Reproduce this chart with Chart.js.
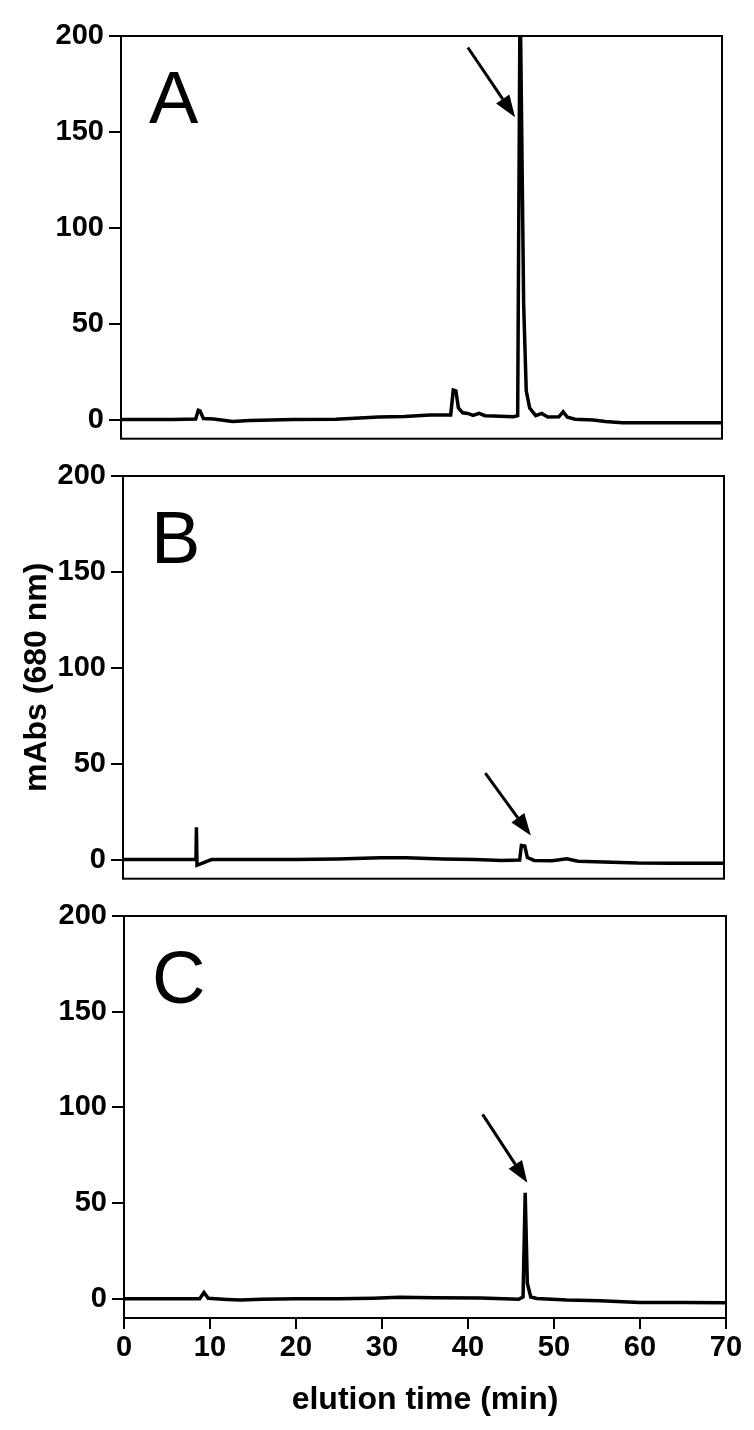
<!DOCTYPE html>
<html>
<head>
<meta charset="utf-8">
<script src="https://cdn.jsdelivr.net/npm/chart.js@4.4.1/dist/chart.umd.min.js"></script>
<style>
  html, body { margin: 0; padding: 0; background: #fff; }
  #wrap { position: relative; width: 754px; height: 1430px; }
  canvas { position: absolute; left: 0; }
</style>
</head>
<body>
<div id="wrap">
  <canvas id="chartA" width="754" height="440" style="top:0px"></canvas>
  <canvas id="chartB" width="754" height="440" style="top:440px"></canvas>
  <canvas id="chartC" width="754" height="550" style="top:880px"></canvas>
</div>
<script>
// elution time (min) / absorbance (mAbs, 680 nm)
const timeA = [0, 6, 8.7, 9.0, 9.2, 9.6, 10.8, 13.0, 15, 20, 25, 27.8, 30, 33, 36, 38.4, 38.7, 39.0, 39.3, 39.8,
  40.4, 41, 41.7, 42.4, 43.4, 45.7, 46.2, 46.45, 46.55, 46.9, 47.2, 47.6, 48.3, 49.0, 49.7, 51.0, 51.5, 52.0, 52.9, 55,
  56.4, 58.4, 62, 66, 70];
const absA = [0, 0, 0.3, 4.8, 4.5, 0.5, 0.3, -1, -0.5, 0, 0.2, 0.8, 1.3, 1.6, 2.3, 2.4, 15.4, 15, 6, 3.5,
  3.2, 2.2, 3.2, 2, 1.8, 1.5, 2, 199, 199, 60, 15, 6, 2, 3.2, 1.3, 1.4, 4, 1.2, 0.2, -0.3,
  -1, -1.7, -1.7, -1.7, -1.7];

const timeB = [0, 5, 8.5, 8.55, 8.62, 10.3, 12, 20, 25, 30, 33, 37.2, 41, 44.1, 46.2, 46.4, 46.8, 47.1, 47.9, 50,
  51.7, 53, 56, 60, 64, 70];
const absB = [0, 0, 0, 16.8, -3, 0, 0, 0, 0.3, 0.9, 0.9, 0.3, 0, -0.5, -0.3, 7.3, 7, 1, -0.5, -0.6,
  0.4, -0.9, -1.3, -1.8, -1.9, -1.9];

const timeC = [0, 8.8, 9.3, 9.8, 12, 13.5, 16, 20, 25, 29, 32, 36, 41.5, 45.9, 46.4, 46.65, 46.9, 47.3, 48, 51.5,
  55.4, 58, 60, 65, 70];
const absC = [0, 0, 3.3, 0.3, -0.3, -0.6, -0.2, 0, 0, 0.3, 0.8, 0.6, 0.4, -0.2, 1, 55.4, 8, 1, 0.2, -0.6,
  -1, -1.5, -1.9, -1.9, -2];

const xTicks = [0, 10, 20, 30, 40, 50, 60, 70];
const yTicks = [0, 50, 100, 150, 200];

// arrows pointing at the peak: [fromTime, fromAbs, toTime, toAbs]
const arrowA = [40.4, 194, 45.9, 157.6];
const arrowB = [42.2, 45, 47.5, 12.5];
const arrowC = [41.7, 96.4, 46.9, 60.6];

Chart.defaults.font.family = "'Liberation Sans', Arial, sans-serif";
Chart.defaults.color = "#000";

// box around the plot, panel letter and the arrow
const panelDecor = {
  id: "panelDecor",
  afterDraw(chart, args, opts) {
    const { ctx, chartArea: a } = chart;
    const sx = chart.scales.x, sy = chart.scales.y;
    ctx.save();
    ctx.strokeStyle = "#000";
    ctx.fillStyle = "#000";
    ctx.lineWidth = 2;
    ctx.strokeRect(a.left, a.top, a.right - a.left, a.bottom - a.top);

    ctx.font = "74px 'Liberation Sans', Arial, sans-serif";
    ctx.textBaseline = "alphabetic";
    ctx.textAlign = "left";
    ctx.fillText(opts.letter, a.left + 28, a.top + 87);

    const x0 = sx.getPixelForValue(opts.arrow[0]), y0 = sy.getPixelForValue(opts.arrow[1]);
    const x1 = sx.getPixelForValue(opts.arrow[2]), y1 = sy.getPixelForValue(opts.arrow[3]);
    const ang = Math.atan2(y1 - y0, x1 - x0);
    const head = 22, half = 8;
    const bx = x1 - head * Math.cos(ang), by = y1 - head * Math.sin(ang);
    ctx.lineWidth = 3;
    ctx.beginPath();
    ctx.moveTo(x0, y0);
    ctx.lineTo(bx, by);
    ctx.stroke();
    ctx.beginPath();
    ctx.moveTo(x1, y1);
    ctx.lineTo(bx + half * Math.sin(ang), by - half * Math.cos(ang));
    ctx.lineTo(bx - half * Math.sin(ang), by + half * Math.cos(ang));
    ctx.closePath();
    ctx.fill();
    ctx.restore();
  }
};

function makePanel(id, times, abs, letter, arrow, left, right, showX, yTitle) {
  const ctx = document.getElementById(id).getContext("2d");
  return new Chart(ctx, {
    type: "line",
    data: {
      datasets: [{
        data: times.map((t, i) => ({ x: t, y: abs[i] })),
        borderColor: "#000",
        borderWidth: 3.5,
        pointRadius: 0,
        tension: 0,
        fill: false
      }]
    },
    options: {
      responsive: false,
      animation: false,
      devicePixelRatio: 1,
      layout: { padding: { left: 0, right: 754 - right, top: 36, bottom: showX ? 0 : 1.3 } },
      plugins: {
        legend: { display: false },
        tooltip: { enabled: false },
        panelDecor: { letter: letter, arrow: arrow }
      },
      scales: {
        x: {
          type: "linear",
          min: 0,
          max: 70,
          display: showX,
          afterBuildTicks: s => { s.ticks = xTicks.map(v => ({ value: v })); },
          afterFit: s => { s.height = showX ? 112 : 0; },
          border: { display: false },
          grid: { drawOnChartArea: false, drawTicks: true, tickLength: 11, color: "#000", lineWidth: 2 },
          ticks: { padding: 2, maxRotation: 0, font: { size: 29, weight: "bold" }, color: "#000" },
          title: {
            display: true,
            text: "elution time (min)",
            font: { size: 32, weight: "bold" },
            color: "#000",
            padding: { top: 0, bottom: 11 }
          }
        },
        y: {
          min: -10,
          max: 200,
          afterBuildTicks: s => { s.ticks = yTicks.map(v => ({ value: v })); },
          afterFit: s => { s.width = left; s.paddingTop = 0; s.paddingBottom = 0; },
          border: { display: false },
          grid: { drawOnChartArea: false, drawTicks: true, tickLength: 12, color: "#000", lineWidth: 2 },
          ticks: { padding: 5, font: { size: 29, weight: "bold" }, color: "#000" },
          title: {
            display: yTitle,
            text: "mAbs (680 nm)",
            font: { size: 32, weight: "bold" },
            color: "#000",
            padding: { top: 18, bottom: 0 }
          }
        }
      }
    },
    plugins: [panelDecor]
  });
}

makePanel("chartA", timeA, absA, "A", arrowA, 121, 722, false, false);
makePanel("chartB", timeB, absB, "B", arrowB, 123, 724, false, true);
makePanel("chartC", timeC, absC, "C", arrowC, 124, 726, true, false);
</script>
</body>
</html>
